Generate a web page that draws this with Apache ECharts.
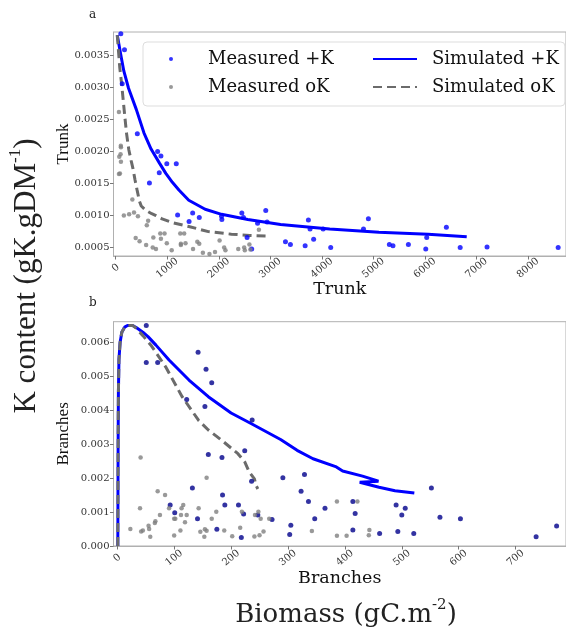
<!DOCTYPE html>
<html><head><meta charset="utf-8">
<script src="https://cdn.jsdelivr.net/npm/echarts@6/dist/echarts.min.js"></script>
<style>html,body{margin:0;padding:0;background:#fff}#c{width:566px;height:636px}</style>
</head><body><div id="c"></div>
<script>
// ---- tick labels ----
const trunkTicksX = [0, 1000, 2000, 3000, 4000, 5000, 6000, 7000, 8000];
const trunkTicksY = [0.0005, 0.0010, 0.0015, 0.0020, 0.0025, 0.0030, 0.0035];
const branchTicksX = [0, 100, 200, 300, 400, 500, 600, 700];
const branchTicksY = [0.000, 0.001, 0.002, 0.003, 0.004, 0.005, 0.006];

// ---- panel a: Trunk ----
const trunkMeasuredPlusK = [
  [100,0.00383],[171,0.00358],[127,0.00305],[420,0.00227],
  [655,0.00150],[814,0.00199],[878,0.00192],[846,0.00166],[992,0.00180],[1176,0.00180],
  [1202,0.00100],[1424,0.00090],[1494,0.00103],[1622,0.00096],[2054,0.00098],[2060,0.00093],
  [2448,0.00103],[2480,0.00096],[2550,0.00065],[2639,0.00047],[2753,0.00087],[2912,0.00107],
  [2938,0.00089],[3294,0.00058],[3390,0.00054],[3676,0.00052],[3739,0.00092],[3771,0.00078],
  [3841,0.00062],[4025,0.00078],[4172,0.00049],[4808,0.00078],[4903,0.00094],[5310,0.00054],
  [5380,0.00052],[5679,0.00054],[6035,0.00065],[6016,0.00047],[6416,0.00081],[6684,0.00049],
  [7205,0.00050],[8585,0.00049]
];
const trunkMeasuredOK = [
  [63,0.00261],[100,0.00208],[102,0.00206],[70,0.00191],[95,0.00195],[102,0.00183],[83,0.00165],[64,0.00164],
  [324,0.00124],[159,0.00099],[261,0.00101],[356,0.00104],[432,0.00098],[388,0.00064],[464,0.00059],
  [591,0.00053],[630,0.00091],[604,0.00084],[719,0.00049],[782,0.00047],[731,0.00065],[865,0.00071],
  [948,0.00071],[878,0.00063],[992,0.00056],[1087,0.00045],[1253,0.00071],[1329,0.00071],[1265,0.00055],
  [1265,0.00053],[1355,0.00056],[1501,0.00047],[1584,0.00058],[1622,0.00055],[1692,0.00041],[1819,0.00039],
  [1927,0.00042],[2016,0.00060],[2105,0.00049],[2130,0.00045],[2378,0.00047],[2493,0.00049],[2506,0.00045],
  [2595,0.00054],[2614,0.00046],[2779,0.00077]
];
const trunkSimPlusK = [
  [31,0.00381],[100,0.00350],[158,0.00325],[250,0.00298],[400,0.00265],[550,0.00228],[687,0.00203],
  [850,0.00181],[973,0.00165],[1100,0.00151],[1227,0.00139],[1418,0.00123],[1736,0.00109],[2054,0.00101],
  [2563,0.00093],[3199,0.00085],[4153,0.00078],[5107,0.00073],[6060,0.00070],[6811,0.00066]
];
const trunkSimOK = [
  [31,0.00381],[80,0.00330],[114,0.00306],[170,0.00260],[210,0.00228],[255,0.00202],[300,0.00185],
  [337,0.00172],[375,0.00155],[413,0.00140],[460,0.00122],[496,0.00114],[550,0.00110],[591,0.00107],
  [700,0.00102],[782,0.00099],[900,0.00094],[1100,0.00088],[1418,0.00082],[1800,0.00074],[2245,0.00070],
  [2600,0.00068],[2944,0.00067]
];

// ---- panel b: Branches ----
const branchMeasuredPlusK = [
  [51,0.00650],[51,0.00541],[71,0.00541],[142,0.00571],[156,0.00521],[166,0.00481],[122,0.00432],
  [154,0.00411],[237,0.00371],[160,0.00270],[184,0.00261],[224,0.00281],[236,0.00191],[291,0.00201],
  [329,0.00211],[323,0.00161],[132,0.00171],[185,0.00150],[93,0.00121],[101,0.00098],[141,0.00080],
  [189,0.00121],[213,0.00121],[222,0.00094],[247,0.00091],[175,0.00049],[218,0.00025],[272,0.00078],
  [305,0.00061],[303,0.00034],[336,0.00131],[347,0.00080],[365,0.00111],[414,0.00131],[418,0.00096],
  [414,0.00047],[461,0.00037],[490,0.00121],[500,0.00091],[506,0.00111],[493,0.00043],[521,0.00037],
  [552,0.00171],[567,0.00085],[603,0.00080],[736,0.00027],[772,0.00059]
];
const branchMeasuredOK = [
  [41,0.00261],[40,0.00111],[23,0.00050],[42,0.00043],[45,0.00046],[55,0.00060],[56,0.00050],[58,0.00027],
  [66,0.00068],[67,0.00073],[71,0.00161],[75,0.00091],[84,0.00150],[91,0.00111],[100,0.00080],[102,0.00080],
  [100,0.00031],[111,0.00046],[112,0.00091],[113,0.00111],[116,0.00121],[119,0.00070],[122,0.00091],
  [143,0.00111],[146,0.00042],[154,0.00049],[153,0.00027],[157,0.00201],[157,0.00045],[166,0.00080],
  [174,0.00101],[188,0.00046],[202,0.00029],[216,0.00054],[219,0.00101],[242,0.00091],[241,0.00028],
  [248,0.00101],[250,0.00032],[252,0.00080],[257,0.00043],[267,0.00080],[342,0.00044],[386,0.00131],
  [386,0.00030],[403,0.00030],[422,0.00131],[443,0.00047],[442,0.00032]
];
const branchSimPlusK = [
  [1,0],[1.5,0.0030],[2,0.0045],[3,0.0055],[5,0.0060],[8,0.0063],[13,0.00645],[18,0.0065],[27,0.0065],
  [34,0.00643],[45,0.0063],[54,0.00617],[68,0.00592],[91,0.00548],[126,0.00489],[160,0.00440],
  [200,0.00392],[235,0.00361],[287,0.00314],[316,0.00282],[344,0.00257],[385,0.00233],[396,0.00221],
  [431,0.00206],[459,0.00191],[426,0.00188],[460,0.00173],[488,0.00163],[522,0.00156]
];
const branchSimOK = [
  [1,0],[1.5,0.0030],[2,0.0045],[3,0.0055],[5,0.0060],[8,0.0063],[13,0.00645],[18,0.0065],[27,0.0065],
  [33,0.00642],[45,0.0062],[60,0.0059],[85,0.00528],[114,0.00440],[143,0.00370],[160,0.00342],
  [184,0.00311],[212,0.00272],[224,0.00248],[232,0.00218],[241,0.00198],[244,0.00178],[247,0.00168]
];

const SERIF_H = 'DejaVu Serif';
const SERIF_V = 'Liberation Serif';
const BLUE = '#0000ff', NAVY = '#00008b', GREY_PT = '#7f7f7f', GREY_LN = '#6b6b6b', FRAME = '#b0b0b0';

function xAxisCfg(idx, min, max, ticks, name, gap) {
  return {
    type: 'value', gridIndex: idx, min: min, max: max, name: name,
    nameLocation: 'middle', nameGap: gap, nameMoveOverlap: false,
    nameTextStyle: {fontFamily: SERIF_H, fontSize: 17.5, color: '#111'},
    splitLine: {show: false},
    axisLine: {show: true, onZero: false, lineStyle: {color: FRAME, width: 1}},
    axisTick: {show: true, length: 3.5, customValues: ticks, lineStyle: {color: '#777'}},
    axisLabel: {customValues: ticks, rotate: 40, align: 'center', verticalAlign: 'middle', margin: 12,
      fontFamily: SERIF_H, fontSize: 10, color: '#333', formatter: v => String(v)}
  };
}
function yAxisCfg(idx, min, max, ticks, name, dec) {
  return {
    type: 'value', gridIndex: idx, min: min, max: max, name: name,
    nameLocation: 'middle', nameGap: 41, nameRotate: 90, nameMoveOverlap: false,
    nameTextStyle: {fontFamily: SERIF_V, fontSize: 17, color: '#111'},
    splitLine: {show: false},
    axisLine: {show: true, onZero: false, lineStyle: {color: FRAME, width: 1}},
    axisTick: {show: true, length: 3.5, customValues: ticks, lineStyle: {color: '#777'}},
    axisLabel: {customValues: ticks, margin: 4, fontFamily: SERIF_H, fontSize: 10, color: '#333',
      formatter: v => v.toFixed(dec)}
  };
}

const chart = echarts.init(document.getElementById('c'), null, {renderer: 'canvas'});
chart.setOption({
  animation: false,
  backgroundColor: '#fff',
  grid: [
    {left: 113.5, top: 32, width: 460, height: 224, show: true, borderColor: FRAME, borderWidth: 1, containLabel: false},
    {left: 113.5, top: 321.7, width: 460, height: 224.3, show: true, borderColor: FRAME, borderWidth: 1, containLabel: false}
  ],
  xAxis: [
    xAxisCfg(0, -42, 8737, trunkTicksX, 'Trunk', 24),
    xAxisCfg(1, -6.6, 788.5, branchTicksX, 'Branches', 23)
  ],
  yAxis: [
    yAxisCfg(0, 0.000359, 0.003859, trunkTicksY, 'Trunk', 4),
    yAxisCfg(1, 0, 0.00661, branchTicksY, 'Branches', 3)
  ],
  legend: {
    left: 143, top: 42, orient: 'horizontal', width: 440,
    padding: [8, 6, 10, 26], itemGap: 10,
    itemWidth: 44, itemHeight: 4,
    backgroundColor: '#fff', borderColor: '#dddddd', borderWidth: 1, borderRadius: 4,
    selectedMode: false,
    data: [
      {name: 'Measured +K', itemStyle: {borderWidth: 0}},
      {name: 'Simulated +K', itemStyle: {opacity: 0}},
      {name: 'Measured oK', itemStyle: {borderWidth: 0}},
      {name: 'Simulated oK', itemStyle: {opacity: 0}}
    ],
    formatter: n => (n.indexOf('Measured') === 0 ? '{m|' + n + '}' : '{s|' + n + '}'),
    textStyle: {
      fontFamily: SERIF_H, fontSize: 18, color: '#111',
      rich: {
        m: {fontFamily: SERIF_H, fontSize: 18, color: '#111', width: 154, lineHeight: 22, padding: [0, 0, 0, 10]},
        s: {fontFamily: SERIF_H, fontSize: 18, color: '#111', width: 126, lineHeight: 22, padding: [0, 0, 0, 10]}
      }
    }
  },
  graphic: [
    {type: 'text', left: 89, top: 9, style: {text: 'a', font: '12px "DejaVu Serif"', fill: '#222'}},
    {type: 'text', left: 89, top: 297, style: {text: 'b', font: '12px "DejaVu Serif"', fill: '#222'}},
    {type: 'text', x: 25, y: 276, rotation: Math.PI / 2,
      style: {text: '{n|K content (gK.gDM}{s|-1}{n|)}', align: 'center', verticalAlign: 'middle',
        rich: {n: {fontFamily: SERIF_V, fontSize: 31, fill: '#222', verticalAlign: 'bottom', lineHeight: 35},
               s: {fontFamily: SERIF_V, fontSize: 17, fill: '#222', verticalAlign: 'top', lineHeight: 35}}}},
    {type: 'text', x: 346, y: 613,
      style: {text: '{n|Biomass (gC.m}{s|-2}{n|)}', align: 'center', verticalAlign: 'middle',
        rich: {n: {fontFamily: SERIF_H, fontSize: 26, fill: '#222', verticalAlign: 'bottom', lineHeight: 30},
               s: {fontFamily: SERIF_H, fontSize: 15, fill: '#222', verticalAlign: 'top', lineHeight: 30}}}}
  ],
  series: [
    {name: 'Measured +K', type: 'scatter', xAxisIndex: 0, yAxisIndex: 0, data: trunkMeasuredPlusK,
      symbolSize: 5, itemStyle: {color: BLUE}, z: 3},
    {name: 'Measured oK', type: 'scatter', xAxisIndex: 0, yAxisIndex: 0, data: trunkMeasuredOK,
      symbolSize: 4.5, itemStyle: {color: GREY_PT}, z: 3},
    {name: 'Simulated +K', type: 'line', xAxisIndex: 0, yAxisIndex: 0, data: trunkSimPlusK,
      showSymbol: false, symbol: 'none', smooth: false, lineStyle: {color: BLUE, width: 3}, itemStyle: {color: BLUE}, z: 2},
    {name: 'Simulated oK', type: 'line', xAxisIndex: 0, yAxisIndex: 0, data: trunkSimOK,
      showSymbol: false, symbol: 'none', smooth: false, lineStyle: {color: GREY_LN, width: 3, type: [9, 5]}, itemStyle: {color: GREY_LN}, z: 2},
    {name: 'Measured +K', type: 'scatter', xAxisIndex: 1, yAxisIndex: 1, data: branchMeasuredPlusK,
      symbolSize: 5, itemStyle: {color: NAVY}, z: 3},
    {name: 'Measured oK', type: 'scatter', xAxisIndex: 1, yAxisIndex: 1, data: branchMeasuredOK,
      symbolSize: 4.5, itemStyle: {color: GREY_PT}, z: 3},
    {name: 'Simulated +K', type: 'line', xAxisIndex: 1, yAxisIndex: 1, data: branchSimPlusK,
      showSymbol: false, symbol: 'none', smooth: false, lineStyle: {color: BLUE, width: 3}, itemStyle: {color: BLUE}, z: 2},
    {name: 'Simulated oK', type: 'line', xAxisIndex: 1, yAxisIndex: 1, data: branchSimOK,
      showSymbol: false, symbol: 'none', smooth: false, lineStyle: {color: GREY_LN, width: 3, type: [9, 5]}, itemStyle: {color: GREY_LN}, z: 2}
  ]
});
</script></body></html>
